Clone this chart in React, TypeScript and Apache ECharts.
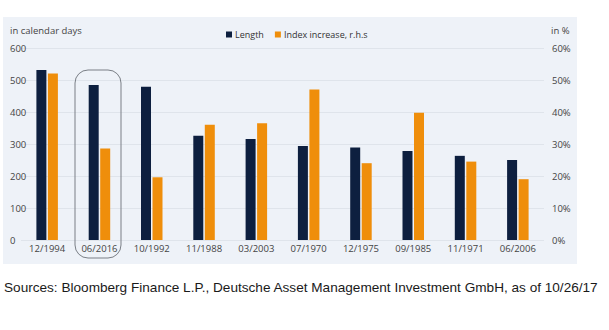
import React, { useEffect, useRef } from "react";
import * as echarts from "echarts";

const categories = ["12/1994", "06/2016", "10/1992", "11/1988", "03/2003", "07/1970", "12/1975", "09/1985", "11/1971", "06/2006"];
const lengthDays = [531, 484, 479, 326, 316, 294, 289, 278, 263, 250];
const indexIncrease = [52, 28.6, 19.6, 36, 36.5, 47, 24, 39.8, 24.5, 19];
const leftTicks = { min: 0, max: 600, interval: 100 };
const rightTicks = { min: 0, max: 60, interval: 10 };

const NAVY = "#0d1f3f";
const ORANGE = "#ef8e0b";
const FONT = "'Open Sans', 'Noto Sans', sans-serif";

export default function App() {
  const ref = useRef<HTMLDivElement>(null);
  useEffect(() => {
    if (!ref.current) return;
    const chart = echarts.init(ref.current, undefined, { renderer: "svg" });
    chart.setOption({
      animation: false,
      backgroundColor: "#ffffff",
      textStyle: { fontFamily: FONT },
      graphic: [
        { type: "rect", z: -10, shape: { x: 3, y: 17, width: 574, height: 247 }, style: { fill: "#eef2f8" } },
        { type: "text", left: 10, top: 25, style: { text: "in calendar days", font: `9.5px ${FONT}`, fill: "#444" } },
        { type: "text", left: 551, top: 25, style: { text: "in %", font: `9.5px ${FONT}`, fill: "#444" } },
        {
          type: "rect",
          z: 10,
          shape: { x: 75, y: 70, width: 46, height: 188, r: 13 },
          style: { fill: "none", stroke: "#7a7f86", lineWidth: 1 },
        },
        {
          type: "text",
          left: 4,
          top: 280,
          style: {
            text: "Sources: Bloomberg Finance L.P., Deutsche Asset Management Investment GmbH, as of 10/26/17",
            font: "13.6px 'Liberation Sans', Arial, sans-serif",
            fill: "#1a1a1a",
          },
        },
      ],
      legend: {
        left: 221,
        top: 25,
        icon: "rect",
        itemWidth: 6,
        itemHeight: 6,
        itemGap: 11,
        textStyle: { fontSize: 9, color: "#333", fontFamily: FONT, padding: [0, 0, 0, -2] },
        data: ["Length", "Index increase, r.h.s"],
      },
      grid: { left: 21, right: 65, top: 48, bottom: 90, containLabel: false },
      xAxis: {
        type: "category",
        data: categories,
        axisLine: { show: false },
        axisTick: { show: false },
        axisLabel: { color: "#444", fontSize: 9.5, fontFamily: FONT, margin: 3, interval: 0 },
      },
      yAxis: [
        {
          type: "value",
          ...leftTicks,
          position: "left",
          axisLine: { show: false },
          axisTick: { show: false },
          splitLine: { lineStyle: { color: "#dfe4eb", width: 1 } },
          axisLabel: { color: "#444", fontSize: 9.5, fontFamily: FONT, align: "left", margin: 11 },
        },
        {
          type: "value",
          ...rightTicks,
          position: "right",
          axisLine: { show: false },
          axisTick: { show: false },
          splitLine: { show: false },
          axisLabel: { color: "#444", fontSize: 9.5, fontFamily: FONT, formatter: "{value}%", margin: 8 },
        },
      ],
      series: [
        {
          name: "Length",
          type: "bar",
          yAxisIndex: 0,
          data: lengthDays,
          barWidth: 10,
          barGap: "15%",
          itemStyle: { color: NAVY },
        },
        {
          name: "Index increase, r.h.s",
          type: "bar",
          yAxisIndex: 1,
          data: indexIncrease,
          barWidth: 10,
          itemStyle: { color: ORANGE },
        },
      ],
    });
    return () => chart.dispose();
  }, []);
  return <div ref={ref} style={{ position: "fixed", left: 0, top: 0, width: 609, height: 330 }} />;
}
